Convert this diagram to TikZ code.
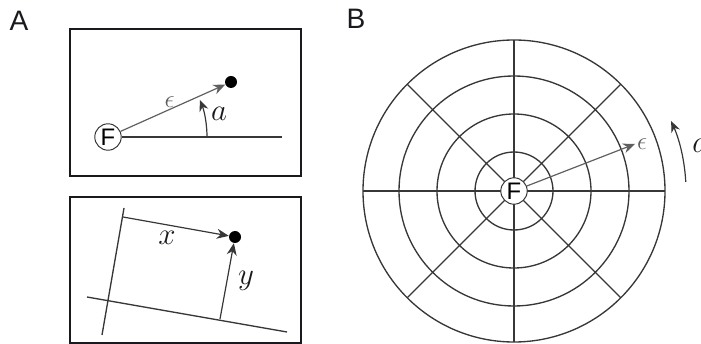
\documentclass[tikz,border=0pt]{standalone}
\usepackage{fix-cm}
\usepackage{fontspec}
\newfontfamily\figsans{Liberation Sans}
\usetikzlibrary{arrows.meta, positioning, calc}
\definecolor{FigInk}{RGB}{25, 25, 30}
\definecolor{FigGrid}{RGB}{55, 55, 55}
\definecolor{FigEps}{RGB}{95, 95, 95}
\tikzset{
  panelbox/.style={draw=FigInk, line width=1.3pt},
  gridline/.style={draw=FigGrid, line width=0.95pt},
  panellabel/.style={font=\figsans\fontsize{20}{20}\selectfont, text=FigInk},
  focusnode/.style={circle, draw=FigGrid, fill=white, line width=0.7pt, inner sep=0pt,
    minimum size=6.6mm, font=\figsans\fontsize{17}{17}\selectfont},
  targetdot/.style={circle, fill=black, inner sep=0pt, minimum size=3mm},
  vecarrow/.style={draw=FigEps, line width=0.85pt, -{Stealth[length=3mm, width=2.5mm]}},
  cartarrow/.style={draw=FigGrid, line width=0.85pt, -{Stealth[length=3mm, width=2.5mm]}},
  anglearrow/.style={draw=FigGrid, line width=0.85pt, -{Stealth[length=2.8mm, width=2.3mm]}},
  epslabel/.style={font=\fontsize{18}{18}\selectfont, text=FigEps, inner sep=1pt},
  varlabel/.style={font=\fontsize{22}{22}\selectfont, text=FigInk, inner sep=0pt}
}
\begin{document}
\begin{tikzpicture}[x=0.25mm, y=-0.25mm]
  \useasboundingbox (0,0) rectangle (701,344);
  % A, top: distance and angle
  \node[panellabel] (labA) at (19,21) {A};
  \draw[panelbox] (70,29) rectangle (301,176);
  \node[focusnode] (fA) at (108,137) {F};
  \node[targetdot] (dotA) at (231,82) {};
  \coordinate (axisA) at (282,137);
  \draw[gridline] (fA) -- (axisA);
  \draw[vecarrow] (fA) -- node[pos=0.47, above, epslabel] {$\epsilon$} (dotA);
  \draw[anglearrow] (207,137) arc[start angle=0, end angle=-22, radius=99];
  \node[varlabel] (angA) at (219,114) {$a$};

  % A, bottom: x and y
  \draw[panelbox] (70,197) rectangle (301,343);
  \coordinate (yAxTop) at (124,208);
  \coordinate (yAxBot) at (102,335);
  \coordinate (xAxLeft) at (87,297);
  \coordinate (xAxRight) at (287,332);
  \draw[gridline] (yAxTop) -- (yAxBot);
  \draw[gridline] (xAxLeft) -- (xAxRight);
  \node[targetdot] (dotC) at (235,237) {};
  \coordinate (xStart) at (123,217);
  \coordinate (yStart) at (220,319);
  \draw[cartarrow] (xStart) -- (dotC);
  \draw[cartarrow] (yStart) -- (dotC);
  \node[varlabel] (xLab) at (167,238) {$x$};
  \node[varlabel] (yLab) at (246,281) {$y$};

  % B: polar grid
  \node[panellabel] (labB) at (356,19) {B};
  \coordinate (cB) at (514,191);
  \foreach \r in {39,77,115,151}
    \draw[gridline] (cB) circle[radius=\r];
  \foreach \ang in {0,45,90,135}
    \draw[gridline] ($(cB)+(\ang:151)$) -- ($(cB)+(\ang+180:151)$);
  \node[focusnode] (fB) at (cB) {F};
  \coordinate (epsTip) at (635,144);
  \draw[vecarrow] (fB) -- (epsTip) node[right, epslabel] {$\epsilon$};
  \draw[anglearrow] ($(cB)+(-3:172)$) arc[start angle=-3, end angle=-24, radius=172];
  \node[varlabel, anchor=west] (angB) at (692,146) {$a$};
\end{tikzpicture}
\end{document}
